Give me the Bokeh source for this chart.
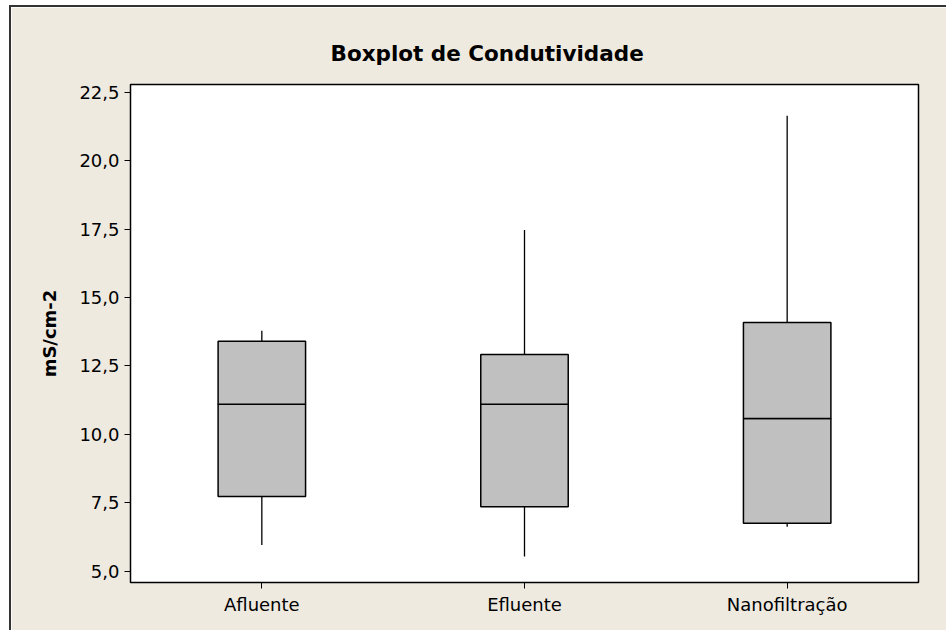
from bokeh.plotting import figure
from bokeh.models import Range1d, FixedTicker
from bokeh.embed import file_html
from bokeh.resources import INLINE

categories = ["Afluente", "Efluente", "Nanofiltração"]
whisker_low = [5.96, 5.54, 6.63]
q1 = [7.73, 7.36, 6.75]
median = [11.10, 11.10, 10.58]
q3 = [13.40, 12.92, 14.09]
whisker_high = [13.79, 17.47, 21.64]

y_tick_values = [5.0, 7.5, 10.0, 12.5, 15.0, 17.5, 20.0, 22.5]
y_tick_labels = ["5,0", "7,5", "10,0", "12,5", "15,0", "17,5", "20,0", "22,5"]

title_text = "Boxplot de Condutividade"
y_label = "mS/cm-2"

BG = "#eeeae0"
FONT = "DejaVu Sans"

p = figure(
    x_range=categories,
    y_range=Range1d(4.59, 22.78),
    frame_width=788, frame_height=498,
    min_border_left=119, min_border_right=28,
    min_border_top=77, min_border_bottom=48,
    output_backend="svg", toolbar_location=None,
    title=title_text,
    background_fill_color="white",
    border_fill_color=BG,
    styles={"border-top": "2px solid #333333", "border-left": "2px solid #333333",
            "margin-left": "9px", "margin-top": "5px"},
)

p.title.align = "left"
p.title.offset = 200
p.title.text_font = FONT
p.title.text_font_size = "21.5px"
p.title.text_font_style = "bold"
p.title.text_color = "black"
p.title.standoff = 37

p.outline_line_color = "black"
p.outline_line_width = 1.5
p.outline_line_alpha = 1.0

p.xgrid.visible = False
p.ygrid.visible = False

# whiskers
p.segment(x0=categories, y0=q3, x1=categories, y1=whisker_high, line_color="black", line_width=1.3)
p.segment(x0=categories, y0=whisker_low, x1=categories, y1=q1, line_color="black", line_width=1.3)

# boxes (lower and upper halves, shared median edge)
p.vbar(x=categories, bottom=q1, top=median, width=0.333,
       fill_color="#c0c0c0", line_color="black", line_width=1.5)
p.vbar(x=categories, bottom=median, top=q3, width=0.333,
       fill_color="#c0c0c0", line_color="black", line_width=1.5)

# axes
yax = p.yaxis[0]
yax.ticker = FixedTicker(ticks=y_tick_values)
yax.major_label_overrides = {v: lab for v, lab in zip(y_tick_values, y_tick_labels)}
yax.minor_tick_line_color = None
yax.major_tick_out = 6
yax.major_tick_in = 0
yax.major_label_standoff = 5
yax.axis_line_color = "black"
yax.major_tick_line_color = "black"
yax.major_label_text_font = FONT
yax.major_label_text_font_size = "18px"
yax.major_label_text_color = "black"
yax.axis_label = y_label
yax.axis_label_text_font = FONT
yax.axis_label_text_font_size = "18px"
yax.axis_label_text_font_style = "bold"
yax.axis_label_text_color = "black"
yax.axis_label_standoff = 16

xax = p.xaxis[0]
xax.major_tick_out = 6
xax.major_tick_in = 0
xax.major_label_standoff = 5
xax.axis_line_color = "black"
xax.major_tick_line_color = "black"
xax.major_label_text_font = FONT
xax.major_label_text_font_size = "18px"
xax.major_label_text_color = "black"

with open("out.html", "w") as f:
    f.write(file_html(p, INLINE))
